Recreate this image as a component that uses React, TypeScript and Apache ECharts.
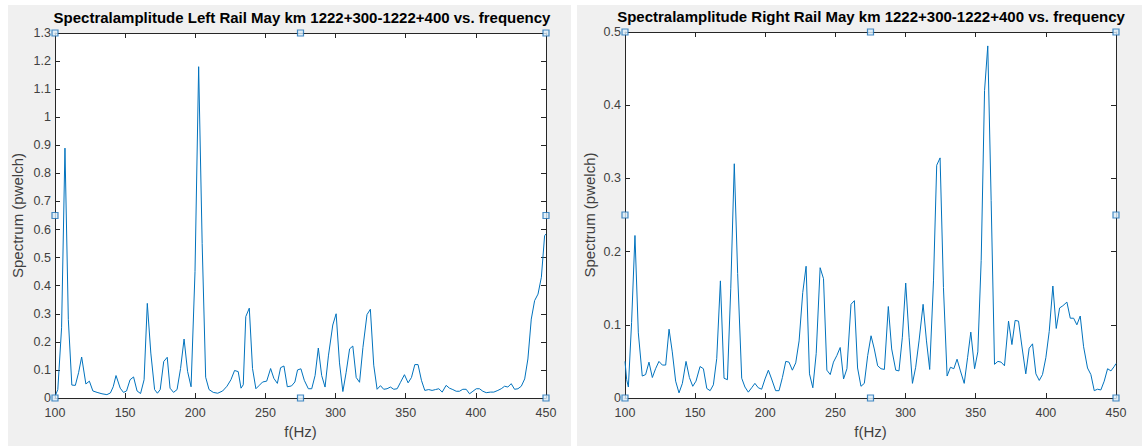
import React, { useEffect, useRef } from "react";
import * as echarts from "echarts";

const xTicks = [100, 150, 200, 250, 300, 350, 400, 450];

const leftTitle = "Spectralamplitude Left Rail May km 1222+300-1222+400 vs. frequency";
const rightTitle = "Spectralamplitude Right Rail May km 1222+300-1222+400 vs. frequency";
const yName = "Spectrum (pwelch)";
const xName = "f(Hz)";

const leftFreq = [
  100, 102, 104.7, 107.1, 109.5, 112, 114.5, 116.8, 119, 122, 124.5, 127, 130, 133.5, 137, 139.5, 141.5, 143.5,
  146.5, 148.8, 151, 153.5, 156, 158.5, 161, 163.5, 165.8, 168.3, 171, 173, 175, 177.5, 180, 182, 184.5, 187,
  189.5, 192, 194.5, 197, 199.8, 202.4, 204.9, 207.4, 209.8, 212.8, 216, 219.5, 222.6, 225.4, 228, 230.6, 232.6,
  234.2, 236, 238.5, 240.8, 243.2, 245.6, 248, 250.9, 253.7, 256, 258.5, 260.8, 263.2, 265.6, 268.6, 271, 272.9,
  275.3, 277.7, 280.6, 283, 285.4, 287.7, 290.1, 292.5, 294.9, 298, 300.4, 302.8, 305.2, 307.5, 310, 312.3,
  314.7, 317.1, 319.5, 322.4, 324.8, 327.2, 329.6, 332, 334.3, 336.7, 339.1, 341.5, 343.9, 346.3, 349.1, 351.7,
  354.1, 356.5, 358.8, 361.2, 363.6, 366.4, 368.8, 371.2, 373.6, 376, 378.8, 381.2, 383.6, 386, 388.3, 390.7,
  393.1, 395.5, 397.9, 400.3, 402.6, 405, 407.4, 410.5, 412.8, 415.7, 418.1, 420.5, 422.8, 425.2, 427.6, 430,
  432.4, 434.8, 437.1, 439.5, 441.9, 444.3, 446.7, 449, 450,
];
const leftAmp = [
  0.005, 0.03, 0.25, 0.89, 0.28, 0.046, 0.045, 0.09, 0.146, 0.05, 0.06, 0.025, 0.02, 0.015, 0.012, 0.018, 0.04, 0.08,
  0.035, 0.02, 0.025, 0.065, 0.075, 0.025, 0.016, 0.065, 0.337, 0.16, 0.03, 0.017, 0.03, 0.13, 0.145, 0.035, 0.02, 0.03,
  0.105, 0.21, 0.095, 0.04, 0.45, 1.18, 0.55, 0.074, 0.03, 0.02, 0.017, 0.025, 0.042, 0.065, 0.098, 0.094, 0.035,
  0.047, 0.29, 0.32, 0.105, 0.033, 0.045, 0.057, 0.06, 0.105, 0.07, 0.052, 0.108, 0.114, 0.04, 0.043, 0.057, 0.1,
  0.104, 0.063, 0.033, 0.033, 0.08, 0.178, 0.08, 0.039, 0.15, 0.26, 0.3, 0.125, 0.023, 0.09, 0.175, 0.185,
  0.073, 0.056, 0.18, 0.297, 0.316, 0.117, 0.031, 0.044, 0.031, 0.033, 0.039, 0.031, 0.033, 0.056, 0.083, 0.054,
  0.073, 0.119, 0.119, 0.063, 0.027, 0.03, 0.027, 0.03, 0.033, 0.021, 0.045, 0.035, 0.03, 0.024, 0.024, 0.031,
  0.031, 0.015, 0.024, 0.033, 0.033, 0.024, 0.019, 0.021, 0.021, 0.027, 0.033, 0.042, 0.039, 0.051, 0.031, 0.033,
  0.042, 0.068, 0.139, 0.281, 0.347, 0.37, 0.43, 0.578, 0.584,
];

const rightFreq = [
  100, 101.2, 102.4, 104.7, 107.1, 109.5, 112.3, 114.7, 117.1, 119.5, 121.8, 124.2, 126.6, 129, 131.4, 133.7,
  136.1, 138.5, 140.9, 143.5, 145.9, 148.3, 150.6, 153.5, 155.9, 158.3, 160.7, 163, 165.4, 168, 170.6, 173, 175.4,
  177.9, 180.3, 183.2, 185.5, 187.9, 190.3, 192.6, 195, 197.4, 199.8, 202.2, 204.5, 207.4, 209.8, 212.2, 214.6,
  216.9, 219.3, 221.7, 224.1, 226.7, 229.1, 231.5, 233.9, 236.3, 239.1, 241.5, 243.9, 246.3, 248.6, 251, 253.4,
  255.8, 258.2, 261.1, 263.5, 265.8, 268.2, 270.6, 273, 275.4, 277.7, 280.1, 282.5, 284.9, 287.7, 290.1, 293,
  295.3, 297.7, 300.1, 302.5, 304.9, 307.2, 309.6, 312.5, 314.9, 317.2, 319.9, 322.2, 324.6, 327, 329.6, 332,
  334.4, 336.7, 339.1, 341.8, 344.2, 346.5, 349.2, 351.5, 353.9, 356.3, 358.6, 361, 363.4, 365.8, 368.1, 370.5,
  373.4, 375.8, 378.1, 380.5, 382.9, 385.7, 388.1, 390.5, 392.9, 395.3, 397.6, 400, 402.4, 405, 407.4, 409.8,
  412.1, 415, 417.4, 419.8, 422.1, 424.5, 426.9, 429.7, 432.1, 434.5, 436.8, 439.2, 441.6, 444, 446.4, 448.7, 450,
];
const rightAmp = [
  0.05, 0.025, 0.015, 0.103, 0.222, 0.089, 0.03, 0.032, 0.049, 0.028, 0.04, 0.05, 0.045, 0.045, 0.094, 0.063,
  0.023, 0.007, 0.02, 0.05, 0.028, 0.016, 0.023, 0.043, 0.04, 0.013, 0.01, 0.018, 0.054, 0.16, 0.027, 0.025, 0.15,
  0.32, 0.17, 0.027, 0.015, 0.008, 0.014, 0.02, 0.014, 0.012, 0.026, 0.038, 0.026, 0.01, 0.01, 0.028, 0.05,
  0.049, 0.038, 0.048, 0.078, 0.144, 0.18, 0.033, 0.014, 0.061, 0.178, 0.163, 0.038, 0.032, 0.049, 0.058, 0.069,
  0.026, 0.04, 0.128, 0.133, 0.041, 0.016, 0.02, 0.058, 0.085, 0.067, 0.044, 0.04, 0.039, 0.125, 0.067, 0.038,
  0.037, 0.083, 0.157, 0.083, 0.02, 0.042, 0.078, 0.128, 0.078, 0.039, 0.16, 0.318, 0.328, 0.151, 0.03, 0.042,
  0.04, 0.053, 0.037, 0.02, 0.055, 0.09, 0.04, 0.063, 0.188, 0.42, 0.481, 0.27, 0.046, 0.05, 0.049, 0.044,
  0.105, 0.073, 0.106, 0.105, 0.071, 0.033, 0.068, 0.074, 0.033, 0.024, 0.032, 0.055, 0.091, 0.153, 0.095, 0.123,
  0.126, 0.131, 0.109, 0.109, 0.1, 0.112, 0.07, 0.041, 0.032, 0.01, 0.012, 0.011, 0.023, 0.04, 0.037, 0.043, 0.047,
];

const leftHandles = [[100, 0], [275, 0], [450, 0], [100, 0.65], [450, 0.65], [100, 1.3], [275, 1.3], [450, 1.3]];
const rightHandles = [[100, 0], [275, 0], [450, 0], [100, 0.25], [450, 0.25], [100, 0.5], [275, 0.5], [450, 0.5]];

const FONT = '"Liberation Sans", Arial, Helvetica, sans-serif';
const AXIS_COLOR = "#262626";
const LABEL_COLOR = "#404040";

function xAxisPair(gridIndex: number) {
  const base = {
    type: "value" as const,
    gridIndex,
    min: xTicks[0],
    max: xTicks[xTicks.length - 1],
    interval: 50,
    splitLine: { show: false },
    axisLine: { show: true, onZero: false, lineStyle: { color: AXIS_COLOR, width: 1 } },
    axisTick: { show: true, inside: true, length: 5, lineStyle: { color: AXIS_COLOR } },
  };
  return [
    {
      ...base,
      position: "bottom",
      name: xName,
      nameLocation: "middle",
      nameGap: 26,
      nameTextStyle: { fontFamily: FONT, fontSize: 15, color: LABEL_COLOR },
      axisLabel: { show: true, fontFamily: FONT, fontSize: 12.5, color: LABEL_COLOR, margin: 8 },
    },
    { ...base, position: "top", axisLabel: { show: false } },
  ];
}

function yAxisPair(gridIndex: number, max: number, nameGap: number) {
  const base = {
    type: "value" as const,
    gridIndex,
    min: 0,
    max,
    interval: 0.1,
    splitLine: { show: false },
    axisLine: { show: true, onZero: false, lineStyle: { color: AXIS_COLOR, width: 1 } },
    axisTick: { show: true, inside: true, length: 5, lineStyle: { color: AXIS_COLOR } },
  };
  return [
    {
      ...base,
      position: "left",
      name: yName,
      nameLocation: "middle",
      nameGap,
      nameTextStyle: { fontFamily: FONT, fontSize: 15, color: LABEL_COLOR },
      axisLabel: { show: true, fontFamily: FONT, fontSize: 12.5, color: LABEL_COLOR, margin: 4 },
    },
    { ...base, position: "right", axisLabel: { show: false } },
  ];
}

function zip(a: number[], b: number[]) {
  return a.map((v, i) => [v, b[i]]);
}

export default function App() {
  const ref = useRef<HTMLDivElement>(null);
  useEffect(() => {
    if (!ref.current) return;
    const chart = echarts.init(ref.current, undefined, { renderer: "svg" });
    const handleStyle = {
      color: "#dcecf8",
      borderColor: "#1a6fb5",
      borderWidth: 1.2,
    };
    chart.setOption({
      animation: false,
      backgroundColor: "#ffffff",
      graphic: [
        { type: "rect", z: -10, shape: { x: 8, y: 5, width: 563, height: 441 }, style: { fill: "#f0f0f0" }, silent: true },
        { type: "rect", z: -10, shape: { x: 577, y: 5, width: 565, height: 441 }, style: { fill: "#f0f0f0" }, silent: true },
        { type: "rect", z: -9, shape: { x: 55, y: 33, width: 491, height: 365 }, style: { fill: "#ffffff" }, silent: true },
        { type: "rect", z: -9, shape: { x: 625, y: 32, width: 491, height: 366 }, style: { fill: "#ffffff" }, silent: true },
        {
          type: "text", x: 302, y: 17,
          style: { text: leftTitle, font: `bold 15px ${FONT}`, fill: "#000", textAlign: "center", textVerticalAlign: "middle" },
        },
        {
          type: "text", x: 871, y: 16,
          style: { text: rightTitle, font: `bold 15px ${FONT}`, fill: "#000", textAlign: "center", textVerticalAlign: "middle" },
        },
      ],
      grid: [
        { left: 55, right: 1142 - 546, top: 33, bottom: 446 - 398 },
        { left: 625, right: 1142 - 1116, top: 32, bottom: 446 - 398 },
      ],
      xAxis: [...xAxisPair(0), ...xAxisPair(1)],
      yAxis: [...yAxisPair(0, 1.3, 30), ...yAxisPair(1, 0.5, 28)],
      series: [
        {
          type: "line", xAxisIndex: 0, yAxisIndex: 0, data: zip(leftFreq, leftAmp),
          showSymbol: false, lineStyle: { color: "#0072BD", width: 1 }, z: 3,
        },
        {
          type: "line", xAxisIndex: 2, yAxisIndex: 2, data: zip(rightFreq, rightAmp),
          showSymbol: false, lineStyle: { color: "#0072BD", width: 1 }, z: 3,
        },
        {
          type: "scatter", xAxisIndex: 0, yAxisIndex: 0, data: leftHandles, symbol: "rect", symbolSize: 6,
          itemStyle: handleStyle, clip: false, z: 5,
        },
        {
          type: "scatter", xAxisIndex: 2, yAxisIndex: 2, data: rightHandles, symbol: "rect", symbolSize: 6,
          itemStyle: handleStyle, clip: false, z: 5,
        },
      ],
    });
    return () => chart.dispose();
  }, []);
  return (
    <div
      ref={ref}
      style={{ position: "fixed", left: 0, top: 0, width: 1142, height: 446 }}
    />
  );
}
